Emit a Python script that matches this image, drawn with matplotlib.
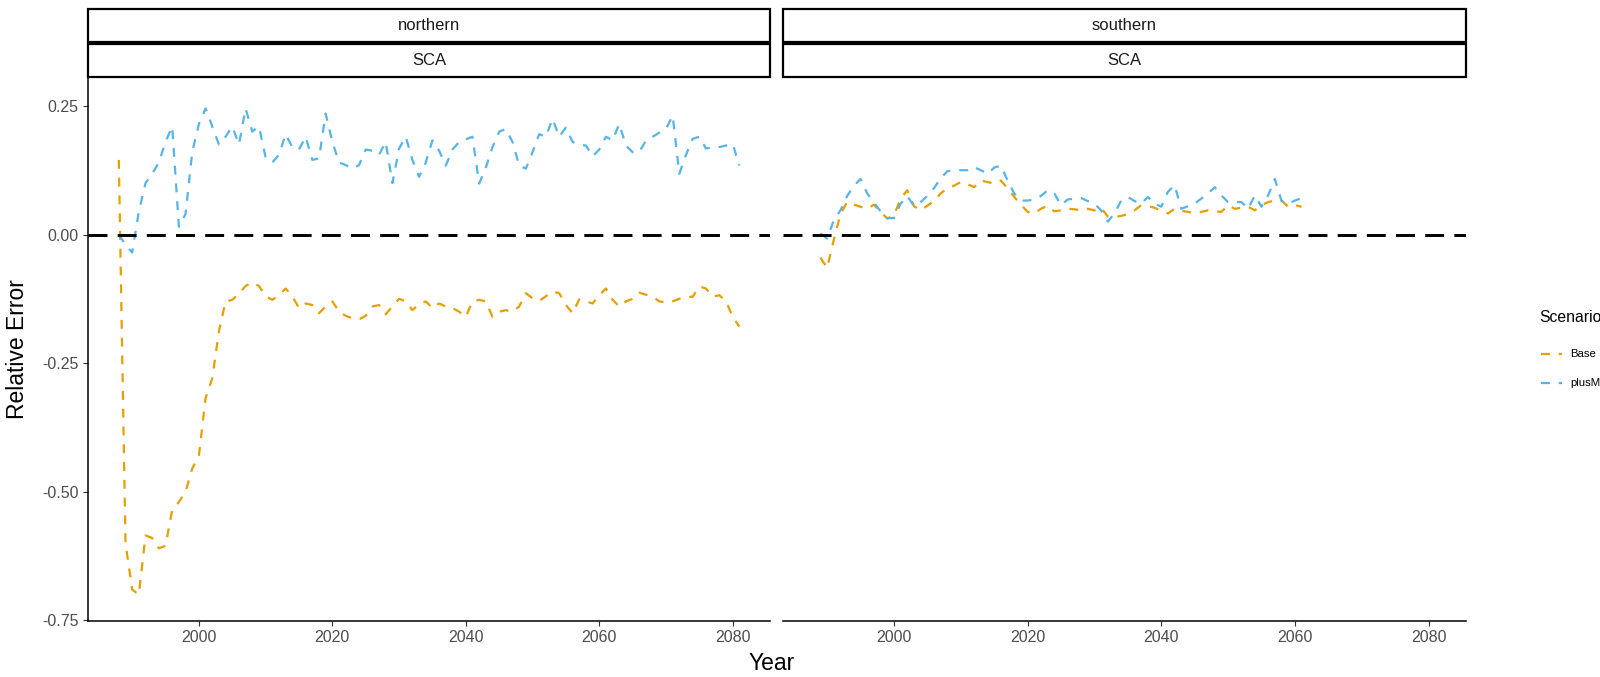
import numpy as np
import matplotlib
matplotlib.use("Agg")
import matplotlib.pyplot as plt
from matplotlib.lines import Line2D
from matplotlib.patches import Rectangle

plt.rcParams["font.family"] = ["Liberation Sans", "DejaVu Sans"]

C_BASE = "#E69F00"
C_PLUSM = "#56B4E9"

scenarios = ["Base", "plusM"]
regions = ["northern", "southern"]
stock = "SCA"

years_north = list(range(1988, 2082))
north_base = [
    0.145, -0.60, -0.69, -0.70, -0.585, -0.59, -0.61, -0.605, -0.535, -0.52,
    -0.50, -0.455, -0.43, -0.318, -0.28, -0.188, -0.13, -0.127, -0.115, -0.10,
    -0.093, -0.10, -0.12, -0.127, -0.118, -0.105, -0.12, -0.143, -0.134, -0.137,
    -0.153, -0.14, -0.13, -0.15, -0.158, -0.163, -0.165, -0.158, -0.14, -0.137,
    -0.155, -0.14, -0.125, -0.13, -0.147, -0.135, -0.13, -0.143, -0.134, -0.14,
    -0.143, -0.15, -0.16, -0.13, -0.127, -0.13, -0.16, -0.15, -0.147, -0.15,
    -0.14, -0.114, -0.124, -0.129, -0.12, -0.111, -0.114, -0.137, -0.153, -0.126,
    -0.13, -0.134, -0.118, -0.105, -0.127, -0.14, -0.13, -0.125, -0.113, -0.117,
    -0.121, -0.13, -0.132, -0.13, -0.125, -0.121, -0.121, -0.101, -0.105, -0.121,
    -0.118, -0.13, -0.16, -0.179,
]
north_plusm = [
    0.00, -0.02, -0.035, 0.045, 0.10, 0.118, 0.14, 0.18, 0.21, 0.015,
    0.04, 0.16, 0.215, 0.245, 0.21, 0.175, 0.19, 0.21, 0.175, 0.245,
    0.20, 0.21, 0.15, 0.14, 0.155, 0.195, 0.17, 0.165, 0.19, 0.145,
    0.148, 0.235, 0.18, 0.14, 0.135, 0.128, 0.135, 0.165, 0.163, 0.155,
    0.18, 0.10, 0.167, 0.19, 0.145, 0.112, 0.14, 0.183, 0.163, 0.134,
    0.165, 0.18, 0.185, 0.19, 0.099, 0.13, 0.17, 0.20, 0.205, 0.18,
    0.134, 0.128, 0.16, 0.195, 0.19, 0.225, 0.19, 0.208, 0.18, 0.175,
    0.173, 0.152, 0.165, 0.19, 0.183, 0.215, 0.173, 0.16, 0.16, 0.183,
    0.19, 0.198, 0.205, 0.231, 0.118, 0.155, 0.186, 0.19, 0.167, 0.17,
    0.17, 0.173, 0.176, 0.134,
]

years_south = list(range(1989, 2062))
south_base = [
    -0.045, -0.065, -0.01, 0.04, 0.063, 0.058, 0.054, 0.05, 0.058, 0.044,
    0.031, 0.037, 0.07, 0.086, 0.055, 0.047, 0.056, 0.065, 0.08, 0.09,
    0.095, 0.102, 0.098, 0.092, 0.105, 0.102, 0.099, 0.105, 0.09, 0.073,
    0.058, 0.044, 0.041, 0.05, 0.056, 0.045, 0.047, 0.05, 0.049, 0.047,
    0.05, 0.047, 0.052, 0.035, 0.034, 0.036, 0.04, 0.047, 0.057, 0.055,
    0.052, 0.046, 0.041, 0.05, 0.046, 0.044, 0.041, 0.044, 0.047, 0.045,
    0.044, 0.057, 0.05, 0.052, 0.054, 0.047, 0.057, 0.063, 0.066, 0.066,
    0.054, 0.057, 0.054,
]
south_plusm = [
    0.002, -0.008, 0.028, 0.047, 0.075, 0.095, 0.108, 0.08, 0.062, 0.045,
    0.032, 0.032, 0.06, 0.075, 0.055, 0.063, 0.075, 0.09, 0.11, 0.123,
    0.125, 0.125, 0.125, 0.131, 0.125, 0.118, 0.13, 0.134, 0.105, 0.08,
    0.066, 0.066, 0.068, 0.075, 0.086, 0.08, 0.057, 0.068, 0.07, 0.071,
    0.065, 0.06, 0.047, 0.025, 0.041, 0.066, 0.073, 0.065, 0.06, 0.073,
    0.06, 0.054, 0.083, 0.096, 0.05, 0.055, 0.06, 0.07, 0.08, 0.092,
    0.076, 0.063, 0.063, 0.063, 0.05, 0.076, 0.054, 0.076, 0.108, 0.065,
    0.06, 0.066, 0.071,
]

y_ticks = [-0.75, -0.50, -0.25, 0.00, 0.25]
y_ticklabels = ["-0.75", "-0.50", "-0.25", "0.00", "0.25"]
x_ticks = [2000, 2020, 2040, 2060, 2080]

panels = [
    (years_north, north_base, north_plusm),
    (years_south, south_base, south_plusm),
]

W, H = 1600, 677
fig = plt.figure(figsize=(W / 100, H / 100), dpi=100)

def fx(px):
    return px / W

def fy(py):
    return 1 - py / H

top, bottom = 77.6, 621.4
lefts = [(87.8, 770.4), (782.7, 1466.3)]
strips = [(9.2, 41.8), (44.0, 76.5)]

TICK_GREY = "#4D4D4D"
all_years = years_north + years_south
xr = max(all_years) - min(all_years)
xlim = (min(all_years) - 0.05 * xr, max(all_years) + 0.05 * xr)
DASH = (4, 4)

for i, ((x0, x1), (yrs, base, plusm)) in enumerate(zip(lefts, panels)):
    ax = fig.add_axes([fx(x0), fy(bottom), fx(x1 - x0), (bottom - top) / H])
    ax.plot(yrs, base, color=C_BASE, lw=1.6, dashes=DASH)
    ax.plot(yrs, plusm, color=C_PLUSM, lw=1.6, dashes=DASH)
    ax.axhline(0, color="black", lw=2.1, dashes=(6.5, 3.5))
    ax.set_xlim(*xlim)
    ax.set_ylim(-0.752, 0.305)
    ax.set_xticks(x_ticks)
    ax.set_xticklabels([str(t) for t in x_ticks])
    ax.set_yticks(y_ticks)
    ax.set_yticklabels(y_ticklabels)
    for s in ["top", "right"]:
        ax.spines[s].set_visible(False)
    ax.spines["bottom"].set_linewidth(1.1)
    ax.spines["left"].set_linewidth(1.1)
    ax.tick_params(axis="both", length=3.5, width=0.8, color="#333333",
                   labelcolor=TICK_GREY, labelsize=11.5, pad=3)
    if i == 1:
        ax.spines["left"].set_visible(False)
        ax.tick_params(axis="y", left=False, labelleft=False)

    # facet strips: region on top, stock underneath
    for (sy0, sy1), label in zip(strips, [regions[i], stock]):
        fig.patches.append(Rectangle((fx(x0), fy(sy1)), fx(x1 - x0), (sy1 - sy0) / H,
                                     transform=fig.transFigure, facecolor="white",
                                     edgecolor="black", lw=1.6))
        fig.text(fx((x0 + x1) / 2), fy((sy0 + sy1) / 2), label, ha="center", va="center",
                 fontsize=12, color="#1A1A1A")

fig.text(fx(18), fy(349), "Relative Error", rotation=90, ha="center", va="center",
         fontsize=16.5, color="black")
fig.text(fx(772), fy(664), "Year", ha="center", va="center", fontsize=16.5, color="black")

# legend, laid out by hand to the right of the panels
fig.text(fx(1539), fy(318), "Scenario", ha="left", va="center", fontsize=11.3, color="black")
for k, (name, col) in enumerate(zip(scenarios, [C_BASE, C_PLUSM])):
    yk = 354 + 29 * k
    fig.add_artist(Line2D([fx(1541), fx(1562)], [fy(yk), fy(yk)], transform=fig.transFigure,
                          color=col, lw=1.6, dashes=DASH))
    fig.text(fx(1570), fy(yk), name, ha="left", va="center", fontsize=8.2, color="black")

fig.savefig("out.png", dpi=100)
